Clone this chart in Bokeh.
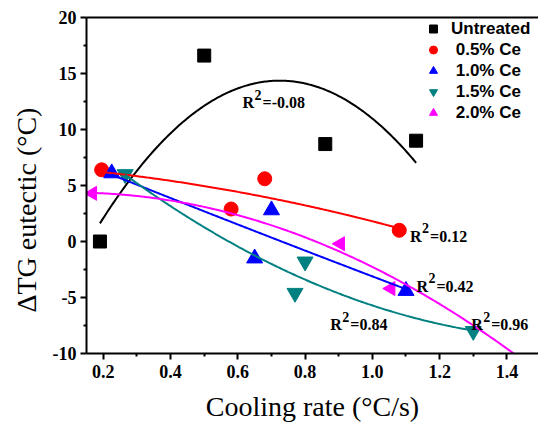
import numpy as np
from bokeh.plotting import figure
from bokeh.models import (Range1d, FixedTicker, Legend, LegendItem, Title,
                          LinearAxis)
from bokeh.core.properties import value
from bokeh.embed import file_html
from bokeh.resources import INLINE

# Cooling rate (°C/s) and eutectic growth undercooling ΔT_G (°C) per alloy
series_names = ["Untreated", " 0.5% Ce", " 1.0% Ce", " 1.5% Ce", " 2.0% Ce"]

rate_untreated = [0.19, 0.50, 0.86, 1.13]
dtg_untreated = [0.0, 16.6, 8.7, 9.0]

rate_ce05 = [0.195, 0.58, 0.68, 1.08]
dtg_ce05 = [6.4, 2.9, 5.6, 1.0]

rate_ce10 = [0.225, 0.65, 0.70, 1.10]
dtg_ce10 = [6.1, -1.5, 2.8, -4.4]

rate_ce15 = [0.265, 0.77, 0.80, 1.30]
dtg_ce15 = [6.0, -4.6, -1.8, -8.0]

rate_ce20 = [0.168, 0.905, 1.055]
dtg_ce20 = [4.3, -0.2, -4.2]

# quadratic fit reported for the 2.0% Ce alloy (highest power first),
# drawn across the whole axis range
fit_ce20 = [-8.35, 1.81, 4.27]

# adjusted R² of each quadratic fit
r2_values = ["-0.08", "0.12", "0.42", "0.84", "0.96"]

x_ticks = [0.2, 0.4, 0.6, 0.8, 1.0, 1.2, 1.4]
x_tick_labels = ["0.2", "0.4", "0.6", "0.8", "1.0", "1.2", "1.4"]
y_ticks = [-10, -5, 0, 5, 10, 15, 20]
y_tick_labels = ["-10", "-5", "0", "5", "10", "15", "20"]

colors = ["black", "#FF0000", "#0000FF", "#008080", "#FF00FF"]

SERIF = "Liberation Serif"
SANS = "Liberation Sans"

p = figure(width=538, height=429, output_backend="svg", toolbar_location=None,
           x_range=Range1d(0.15, 1.494), y_range=Range1d(-10, 20),
           min_border_left=86, min_border_right=0, min_border_top=17,
           min_border_bottom=76)
p.outline_line_color = None
p.grid.visible = False
p.background_fill_color = "white"
p.border_fill_color = "white"

# axes
def minor_between(ticks):
    return [(a + b) / 2 for a, b in zip(ticks[:-1], ticks[1:])]

p.xaxis.ticker = FixedTicker(ticks=x_ticks, minor_ticks=minor_between(x_ticks))
p.yaxis.ticker = FixedTicker(ticks=y_ticks, minor_ticks=minor_between(y_ticks))
p.xaxis.major_label_overrides = dict(zip(x_ticks, x_tick_labels))
p.yaxis.major_label_overrides = dict(zip(y_ticks, y_tick_labels))

for ax in (p.xaxis[0], p.yaxis[0]):
    ax.axis_line_width = 2
    ax.major_tick_line_width = 2
    ax.minor_tick_line_width = 2
    ax.major_tick_in = 0
    ax.major_tick_out = 6
    ax.minor_tick_in = 0
    ax.minor_tick_out = 3
    ax.major_label_text_font = SERIF
    ax.major_label_text_font_style = "bold"
    ax.major_label_text_font_size = "18px"
    ax.major_label_text_color = "black"
p.xaxis.major_label_standoff = 5
p.yaxis.major_label_standoff = 4

p.xaxis.axis_label = "Cooling rate (°C/s)"
p.xaxis.axis_label_text_font = SERIF
p.xaxis.axis_label_text_font_style = "normal"
p.xaxis.axis_label_text_font_size = "28px"
p.xaxis.axis_label_text_color = "black"
p.xaxis.axis_label_standoff = 10

top_axis = LinearAxis(ticker=FixedTicker(ticks=[]), axis_line_width=2,
                      major_label_text_font_size="0px",
                      major_tick_line_color=None, minor_tick_line_color=None)
p.add_layout(top_axis, "above")

p.add_layout(Title(text="ΔTG eutectic (°C)", align="left", offset=41,
                   standoff=15, text_font=SERIF, text_font_style="normal",
                   text_font_size="28px", text_color="black"), "left")

# data points
r0 = p.scatter(rate_untreated, dtg_untreated, marker="square", size=13,
               color=colors[0])
r1 = p.scatter(rate_ce05, dtg_ce05, marker="circle", size=14, color=colors[1])
r2 = p.scatter(rate_ce10, dtg_ce10, marker="triangle", size=16, color=colors[2])
r3 = p.scatter(rate_ce15, dtg_ce15, marker="inverted_triangle", size=16,
               color=colors[3])
r4 = p.scatter(rate_ce20, dtg_ce20, marker="triangle", size=14,
               angle=np.pi / 2, color=colors[4])

# quadratic fits over each data range
fit_sets = [(rate_untreated, dtg_untreated), (rate_ce05, dtg_ce05),
            (rate_ce10, dtg_ce10), (rate_ce15, dtg_ce15)]
for (xs, ys), c in zip(fit_sets, colors[:4]):
    coef = np.polyfit(xs, ys, 2)
    xx = np.linspace(min(xs), max(xs), 200)
    p.line(xx, np.polyval(coef, xx), line_color=c, line_width=2)

xx = np.linspace(0.15, 1.494, 300)
p.line(xx, np.polyval(fit_ce20, xx), line_color=colors[4], line_width=2)

# R² annotations: left edge / baseline of each label
r2_anchor_x = [0.614, 1.112, 1.131, 0.875, 1.294]
r2_anchor_y = [12.4, 0.47, -3.99, -7.44, -7.44]
text_style = dict(text_font=value(SERIF), text_font_style="bold",
                  text_color="black", text_align="left",
                  text_baseline="alphabetic")
p.text(r2_anchor_x, r2_anchor_y, text=["R"] * len(r2_values),
       text_font_size="16px", **text_style)
p.text(r2_anchor_x, r2_anchor_y, text=["2"] * len(r2_values),
       text_font_size="14px", x_offset=12, y_offset=-8, **text_style)
p.text(r2_anchor_x, r2_anchor_y, text=["=" + v for v in r2_values],
       text_font_size="16px", x_offset=20, **text_style)

legend = Legend(items=[LegendItem(label=n, renderers=[r])
                       for n, r in zip(series_names, [r0, r1, r2, r3, r4])],
                location=(337, 230), orientation="vertical",
                border_line_color=None, background_fill_alpha=0,
                padding=0, margin=0, spacing=0,
                glyph_width=20, glyph_height=21, label_height=21,
                label_standoff=8, label_text_font=SANS,
                label_text_font_style="bold", label_text_font_size="17px",
                label_text_color="black")
p.add_layout(legend)

open("out.html", "w").write(file_html(p, INLINE))
